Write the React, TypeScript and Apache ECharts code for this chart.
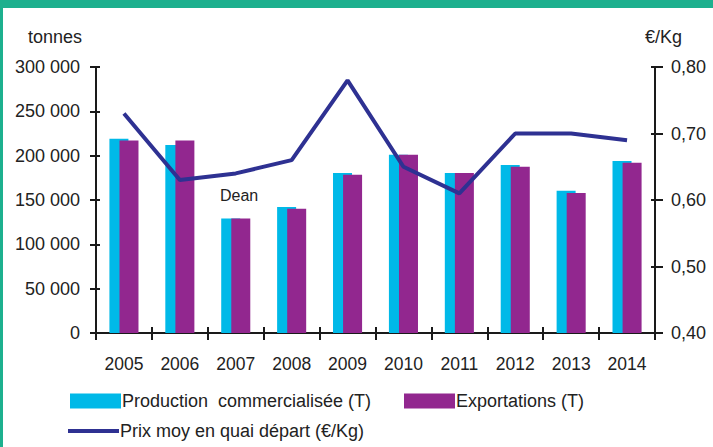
import React, { useEffect, useRef } from "react";
import * as echarts from "echarts";

const years = ["2005", "2006", "2007", "2008", "2009", "2010", "2011", "2012", "2013", "2014"];
const production = [219000, 212000, 129000, 142000, 180500, 201000, 180500, 189500, 160500, 194000];
const exportations = [217000, 217000, 129000, 140000, 178500, 201000, 180500, 187500, 158000, 192000];
const prix = [0.73, 0.63, 0.64, 0.66, 0.78, 0.65, 0.61, 0.70, 0.70, 0.69];

const leftTicks = { min: 0, max: 300000, interval: 50000 };
const rightTicks = { min: 0.4, max: 0.8, interval: 0.1 };

const NAME_PROD = "Production  commercialisée (T)";
const NAME_EXP = "Exportations (T)";
const NAME_PRIX = "Prix moy en quai départ (€/Kg)";

const FONT = "'Liberation Sans', Arial, sans-serif";
const TXT = "#222222";
const AXIS = "#1a1a1a";

export default function App() {
  const ref = useRef<HTMLDivElement>(null);
  useEffect(() => {
    document.body.style.margin = "0";
    if (!ref.current) return;
    const chart = echarts.init(ref.current, null, { renderer: "svg" });
    const fmtLeft = (v: number) => {
      const s = String(Math.round(v));
      return s.replace(/\B(?=(\d{3})+(?!\d))/g, " ");
    };
    const fmtRight = (v: number) => v.toFixed(2).replace(".", ",");
    chart.setOption({
      animation: false,
      backgroundColor: "#ffffff",
      textStyle: { fontFamily: FONT },
      grid: { left: 96, right: 58, top: 67, bottom: 114, containLabel: false },
      legend: [
        {
          data: [NAME_PROD],
          left: 70,
          top: 392,
          padding: 0,
          itemWidth: 51,
          itemHeight: 15,
          icon: "rect",
          textStyle: { fontSize: 18, color: TXT, fontFamily: FONT, padding: [0, 0, 0, -4] },
        },
        {
          data: [NAME_EXP],
          left: 404,
          top: 392,
          padding: 0,
          itemWidth: 51,
          itemHeight: 15,
          icon: "rect",
          textStyle: { fontSize: 18, color: TXT, fontFamily: FONT, padding: [0, 0, 0, -4] },
        },
        {
          data: [NAME_PRIX],
          left: 68,
          top: 422,
          padding: 0,
          itemWidth: 51,
          itemHeight: 4,
          icon: "rect",
          textStyle: { fontSize: 18, color: TXT, fontFamily: FONT, padding: [0, 0, 0, -4] },
        },
      ],
      xAxis: [
        {
          type: "category",
          data: years,
          position: "bottom",
          axisLine: { lineStyle: { color: AXIS, width: 2 } },
          axisTick: { show: true, length: 7, lineStyle: { color: AXIS, width: 2 } },
          axisLabel: { fontSize: 17.5, color: TXT, margin: 22, fontFamily: FONT },
        },
        {
          type: "category",
          data: years,
          position: "bottom",
          axisLine: { show: false },
          axisTick: { show: true, inside: true, length: 6, lineStyle: { color: AXIS, width: 2 } },
          axisLabel: { show: false },
        },
      ],
      yAxis: [
        {
          type: "value",
          position: "left",
          min: leftTicks.min,
          max: leftTicks.max,
          interval: leftTicks.interval,
          splitLine: { show: false },
          axisLine: { show: true, lineStyle: { color: AXIS, width: 2 } },
          axisTick: { show: true, length: 6, lineStyle: { color: AXIS, width: 2 } },
          axisLabel: { fontSize: 18, color: TXT, margin: 16, formatter: fmtLeft, fontFamily: FONT },
        },
        {
          type: "value",
          position: "right",
          min: rightTicks.min,
          max: rightTicks.max,
          interval: rightTicks.interval,
          splitLine: { show: false },
          axisLine: { show: true, lineStyle: { color: AXIS, width: 2 } },
          axisTick: { show: true, length: 8, lineStyle: { color: AXIS, width: 2 } },
          axisLabel: { fontSize: 18, color: TXT, margin: 16, formatter: fmtRight, fontFamily: FONT },
        },
        {
          type: "value",
          position: "left",
          min: leftTicks.min,
          max: leftTicks.max,
          interval: leftTicks.interval,
          splitLine: { show: false },
          axisLine: { show: false },
          axisTick: { show: true, inside: true, length: 4, lineStyle: { color: AXIS, width: 2 } },
          axisLabel: { show: false },
        },
        {
          type: "value",
          position: "right",
          min: rightTicks.min,
          max: rightTicks.max,
          interval: rightTicks.interval,
          splitLine: { show: false },
          axisLine: { show: false },
          axisTick: { show: true, inside: true, length: 4, lineStyle: { color: AXIS, width: 2 } },
          axisLabel: { show: false },
        },
      ],
      series: [
        {
          name: NAME_PROD,
          type: "bar",
          data: production,
          barWidth: 19,
          barGap: "-47%",
          itemStyle: { color: "#00B9E8" },
        },
        {
          name: NAME_EXP,
          type: "bar",
          data: exportations,
          barWidth: 19,
          barGap: "-47%",
          itemStyle: { color: "#92278F" },
        },
        {
          name: NAME_PRIX,
          type: "line",
          yAxisIndex: 1,
          data: prix,
          showSymbol: false,
          symbol: "none",
          lineStyle: { color: "#2E3192", width: 4 },
          itemStyle: { color: "#2E3192" },
          z: 5,
        },
      ],
      graphic: [
        { type: "rect", left: 0, top: 0, shape: { width: 713, height: 8 }, style: { fill: "#1DB08E" } },
        { type: "rect", left: 0, top: 0, shape: { width: 3, height: 447 }, style: { fill: "#1DB08E" } },
        {
          type: "text",
          left: 28,
          top: 28,
          style: { text: "tonnes", fontSize: 18, fill: TXT, fontFamily: FONT },
        },
        {
          type: "text",
          left: 645,
          top: 28,
          style: { text: "€/Kg", fontSize: 18, fill: TXT, fontFamily: FONT },
        },
        {
          type: "text",
          left: 220,
          top: 187,
          style: { text: "Dean", fontSize: 16, fill: TXT, fontFamily: FONT },
        },
      ],
    });
    return () => chart.dispose();
  }, []);
  return <div ref={ref} style={{ width: 713, height: 447 }} />;
}
